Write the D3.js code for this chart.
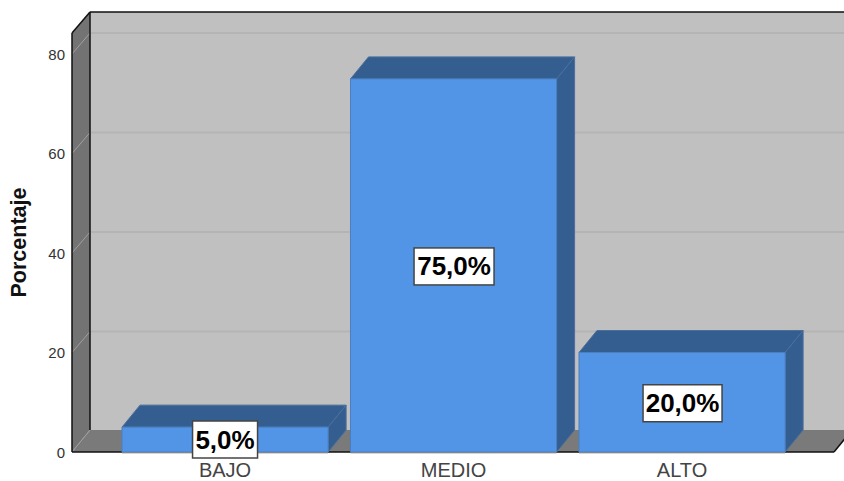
<!DOCTYPE html>
<html><head><meta charset="utf-8">
<script src="https://cdn.jsdelivr.net/npm/d3@7"></script>
<style>html,body{margin:0;padding:0;background:#fff}svg{display:block}text{font-family:"Liberation Sans",Arial,sans-serif}</style>
</head><body><div id="chart"></div>
<script>
const categories = ["BAJO","MEDIO","ALTO"];
const values = [5,75,20];
const valueLabels = ["5,0%","75,0%","20,0%"];
const yTicks = [0,20,40,60,80];
const yTop = 84.2;
const W=844,H=481, dx=18, dy=21, dyB=22;
const svg=d3.select("#chart").append("svg").attr("width",W).attr("height",H);
const y=d3.scaleLinear().domain([0,80]).range([452,54]);
const x=d3.scaleBand().domain(categories).range([110.8,796.3]).paddingInner(0.098).paddingOuter(0.049);
const L=72,R=834;
const poly=(pts,fill,stroke,sw)=>svg.append("polygon").attr("points",pts.map(p=>p.join(",")).join(" ")).attr("fill",fill).attr("stroke",stroke||"none").attr("stroke-width",sw||0);
// back wall
poly([[L+dx,y(yTop)-dy],[W+2,y(yTop)-dy],[W+2,y(0)-dyB],[L+dx,y(0)-dyB]],"#c0c0c0");
// side wall, floor
poly([[L,y(yTop)],[L+dx,y(yTop)-dy],[L+dx,y(0)-dyB],[L,y(0)]],"#737373");
poly([[L,y(0)],[L+dx,y(0)-dyB],[R+dx,y(0)-dyB],[R,y(0)]],"#7a7a7a");
// gridlines
yTicks.filter(t=>t>0).forEach(t=>{
  svg.append("line").attr("x1",L+dx).attr("x2",W).attr("y1",y(t)-dy).attr("y2",y(t)-dy).attr("stroke","#b4b4b4").attr("stroke-width",2);
  svg.append("line").attr("x1",L).attr("x2",L+dx).attr("y1",y(t)).attr("y2",y(t)-dy).attr("stroke","#a0a0a0").attr("stroke-width",1);
});
svg.append("line").attr("x1",L).attr("x2",L+dx).attr("y1",y(0)).attr("y2",y(0)-dyB).attr("stroke","#a0a0a0").attr("stroke-width",1);
// frame lines
const black=(x1,y1,x2,y2,w)=>svg.append("line").attr("x1",x1).attr("y1",y1).attr("x2",x2).attr("y2",y2).attr("stroke","#111").attr("stroke-width",w||1.5);
black(L+dx,y(yTop)-dy,W,y(yTop)-dy);
black(L+dx,y(yTop)-dy,L+dx,y(0)-dyB);
black(L,y(yTop),L+dx,y(yTop)-dy);
black(L,y(yTop),L,y(0));
black(L,y(0),R,y(0));
black(R,y(0),R+dx,y(0)-dyB);
// bars
categories.forEach((c,i)=>{
  const x0=x(c),x1=x0+x.bandwidth(),yt=y(values[i]),yb=y(0);
  poly([[x0,yt],[x0+dx,yt-dyB],[x1+dx,yt-dyB],[x1,yt]],"#345d90","#4a6f9c",1);
  poly([[x1,yt],[x1+dx,yt-dyB],[x1+dx,yb-dyB],[x1,yb]],"#345d90","#4a6f9c",1);
  poly([[x0,yt],[x1,yt],[x1,yb],[x0,yb]],"#5295e6","#4a7fc0",1);
  svg.append("line").attr("x1",x0).attr("x2",x1).attr("y1",yb+1).attr("y2",yb+1).attr("stroke","#aaa");
});
// y tick labels
svg.selectAll(".yt").data(yTicks).join("text").attr("class","yt").attr("x",65).attr("y",d=>y(d)+2)
  .attr("text-anchor","end").attr("dominant-baseline","middle").attr("font-size",15).attr("fill","#333").text(d=>d);
// x labels
svg.selectAll(".xl").data(categories).join("text").attr("class","xl").attr("x",d=>x(d)+x.bandwidth()/2).attr("y",476.5)
  .attr("text-anchor","middle").attr("font-size",20).attr("fill","#444").text(d=>d);
// y title
svg.append("text").attr("transform","translate(25.5,242.5) rotate(-90)").attr("text-anchor","middle")
  .attr("font-size",21.5).attr("font-weight","bold").attr("fill","#111").text("Porcentaje");
// value labels
const boxW=[65,80,79];
categories.forEach((c,i)=>{
  const cx=x(c)+x.bandwidth()/2+(i===0?0:0.5), cy=i===0?y(0)-12.5:(y(0)+y(values[i]))/2+1;
  svg.append("rect").attr("x",cx-boxW[i]/2).attr("y",cy-18.5).attr("width",boxW[i]).attr("height",37)
    .attr("fill","#fff").attr("stroke","#444").attr("stroke-width",1.5);
  svg.append("text").attr("x",cx).attr("y",cy+9).attr("text-anchor","middle").attr("font-size",26)
    .attr("font-weight","bold").attr("fill","#000").text(valueLabels[i]);
});
</script></body></html>
